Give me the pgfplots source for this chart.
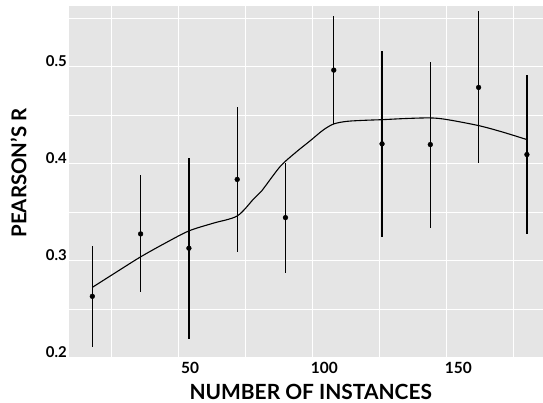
\documentclass[border=0pt]{standalone}
\usepackage{fontspec}
\setmainfont{Lato}
\usepackage{pgfplots}
\usepackage{pgfplotstable}
\pgfplotsset{compat=1.18}
\definecolor{panel}{RGB}{229,229,229}

% points with their interval (lo, hi)
\pgfplotstableread{
x    y      lo     hi
18   0.2635 0.2112 0.3154
36   0.3277 0.2676 0.3879
54   0.3130 0.2197 0.4060
72   0.3838 0.3086 0.4584
90   0.3445 0.2874 0.4009
108  0.4963 0.4409 0.5520
126  0.4204 0.3246 0.5160
144  0.4197 0.3338 0.5051
162  0.4785 0.4002 0.5571
180  0.4094 0.3277 0.4915
}\points

% smoothed trend
\pgfplotstableread{
x    y
18   0.2727
27   0.2885
36   0.3041
45   0.3180
54   0.3308
63   0.3387
72   0.3462
78   0.3633
81   0.3715
88   0.3970
94   0.4120
99   0.4231
104  0.4345
108  0.4409
113  0.4436
120  0.4447
126  0.4453
135  0.4465
144  0.4471
150  0.4455
162  0.4392
171  0.4325
180  0.4248
}\trend

\begin{document}
\begin{tikzpicture}
\begin{axis}[
    scale only axis,
    width=474bp, height=352bp,
    xmin=9.3, xmax=186,
    ymin=0.2, ymax=0.5623,
    axis background/.style={fill=panel},
    axis line style={draw=none},
    major tick length=0pt, minor tick length=0pt,
    xtick={50,100,150}, minor xtick={25,75,125,175},
    ytick={0.2,0.3,0.4,0.5}, minor ytick={0.25,0.35,0.45,0.55},
    grid=both,
    major grid style={white, line width=1.1bp},
    minor grid style={white, line width=0.55bp},
    /pgf/number format/assume math mode=true,
    xticklabel={\textbf{\pgfmathprintnumber{\tick}}},
    yticklabel={\textbf{\pgfmathprintnumber[fixed,fixed zerofill,precision=1]{\tick}}},
    xticklabel style={font=\bfseries\fontsize{15.5}{15.5}\selectfont, anchor=north, inner sep=0pt, yshift=-4.5bp, xshift=12bp},
    yticklabel style={font=\bfseries\fontsize{15}{15}\selectfont, anchor=base east, inner sep=0pt, xshift=-2bp, yshift=0.5bp},
    xlabel={NUMBER OF INSTANCES},
    ylabel={PEARSON’S R},
    every axis x label/.style={at={(axis description cs:0.510,-0.0966)}, anchor=center, font=\bfseries\fontsize{21}{21}\selectfont},
    every axis y label/.style={at={(axis description cs:-0.1065,0.5256)}, anchor=center, rotate=90, font=\bfseries\fontsize{20.5}{20.5}\selectfont},
]
\addplot[black, line width=1.1bp, smooth, tension=0.5] table[x=x, y=y] {\trend};
\addplot[draw=none, mark=none, forget plot,
    error bars/.cd, y dir=both, y explicit,
    error bar style={black, line width=1.3bp}, error mark=none]
    table[x=x, y=y, y error plus expr=\thisrow{hi}-\thisrow{y}, y error minus expr=\thisrow{y}-\thisrow{lo}] {\points};
\addplot[only marks, mark=*, mark size=2.4bp, black] table[x=x, y=y] {\points};
\end{axis}
\pgfresetboundingbox
\path ([shift={(-69bp,-45bp)}]current axis.south west) rectangle ([shift={(0bp,6bp)}]current axis.north east);
\end{tikzpicture}
\end{document}
